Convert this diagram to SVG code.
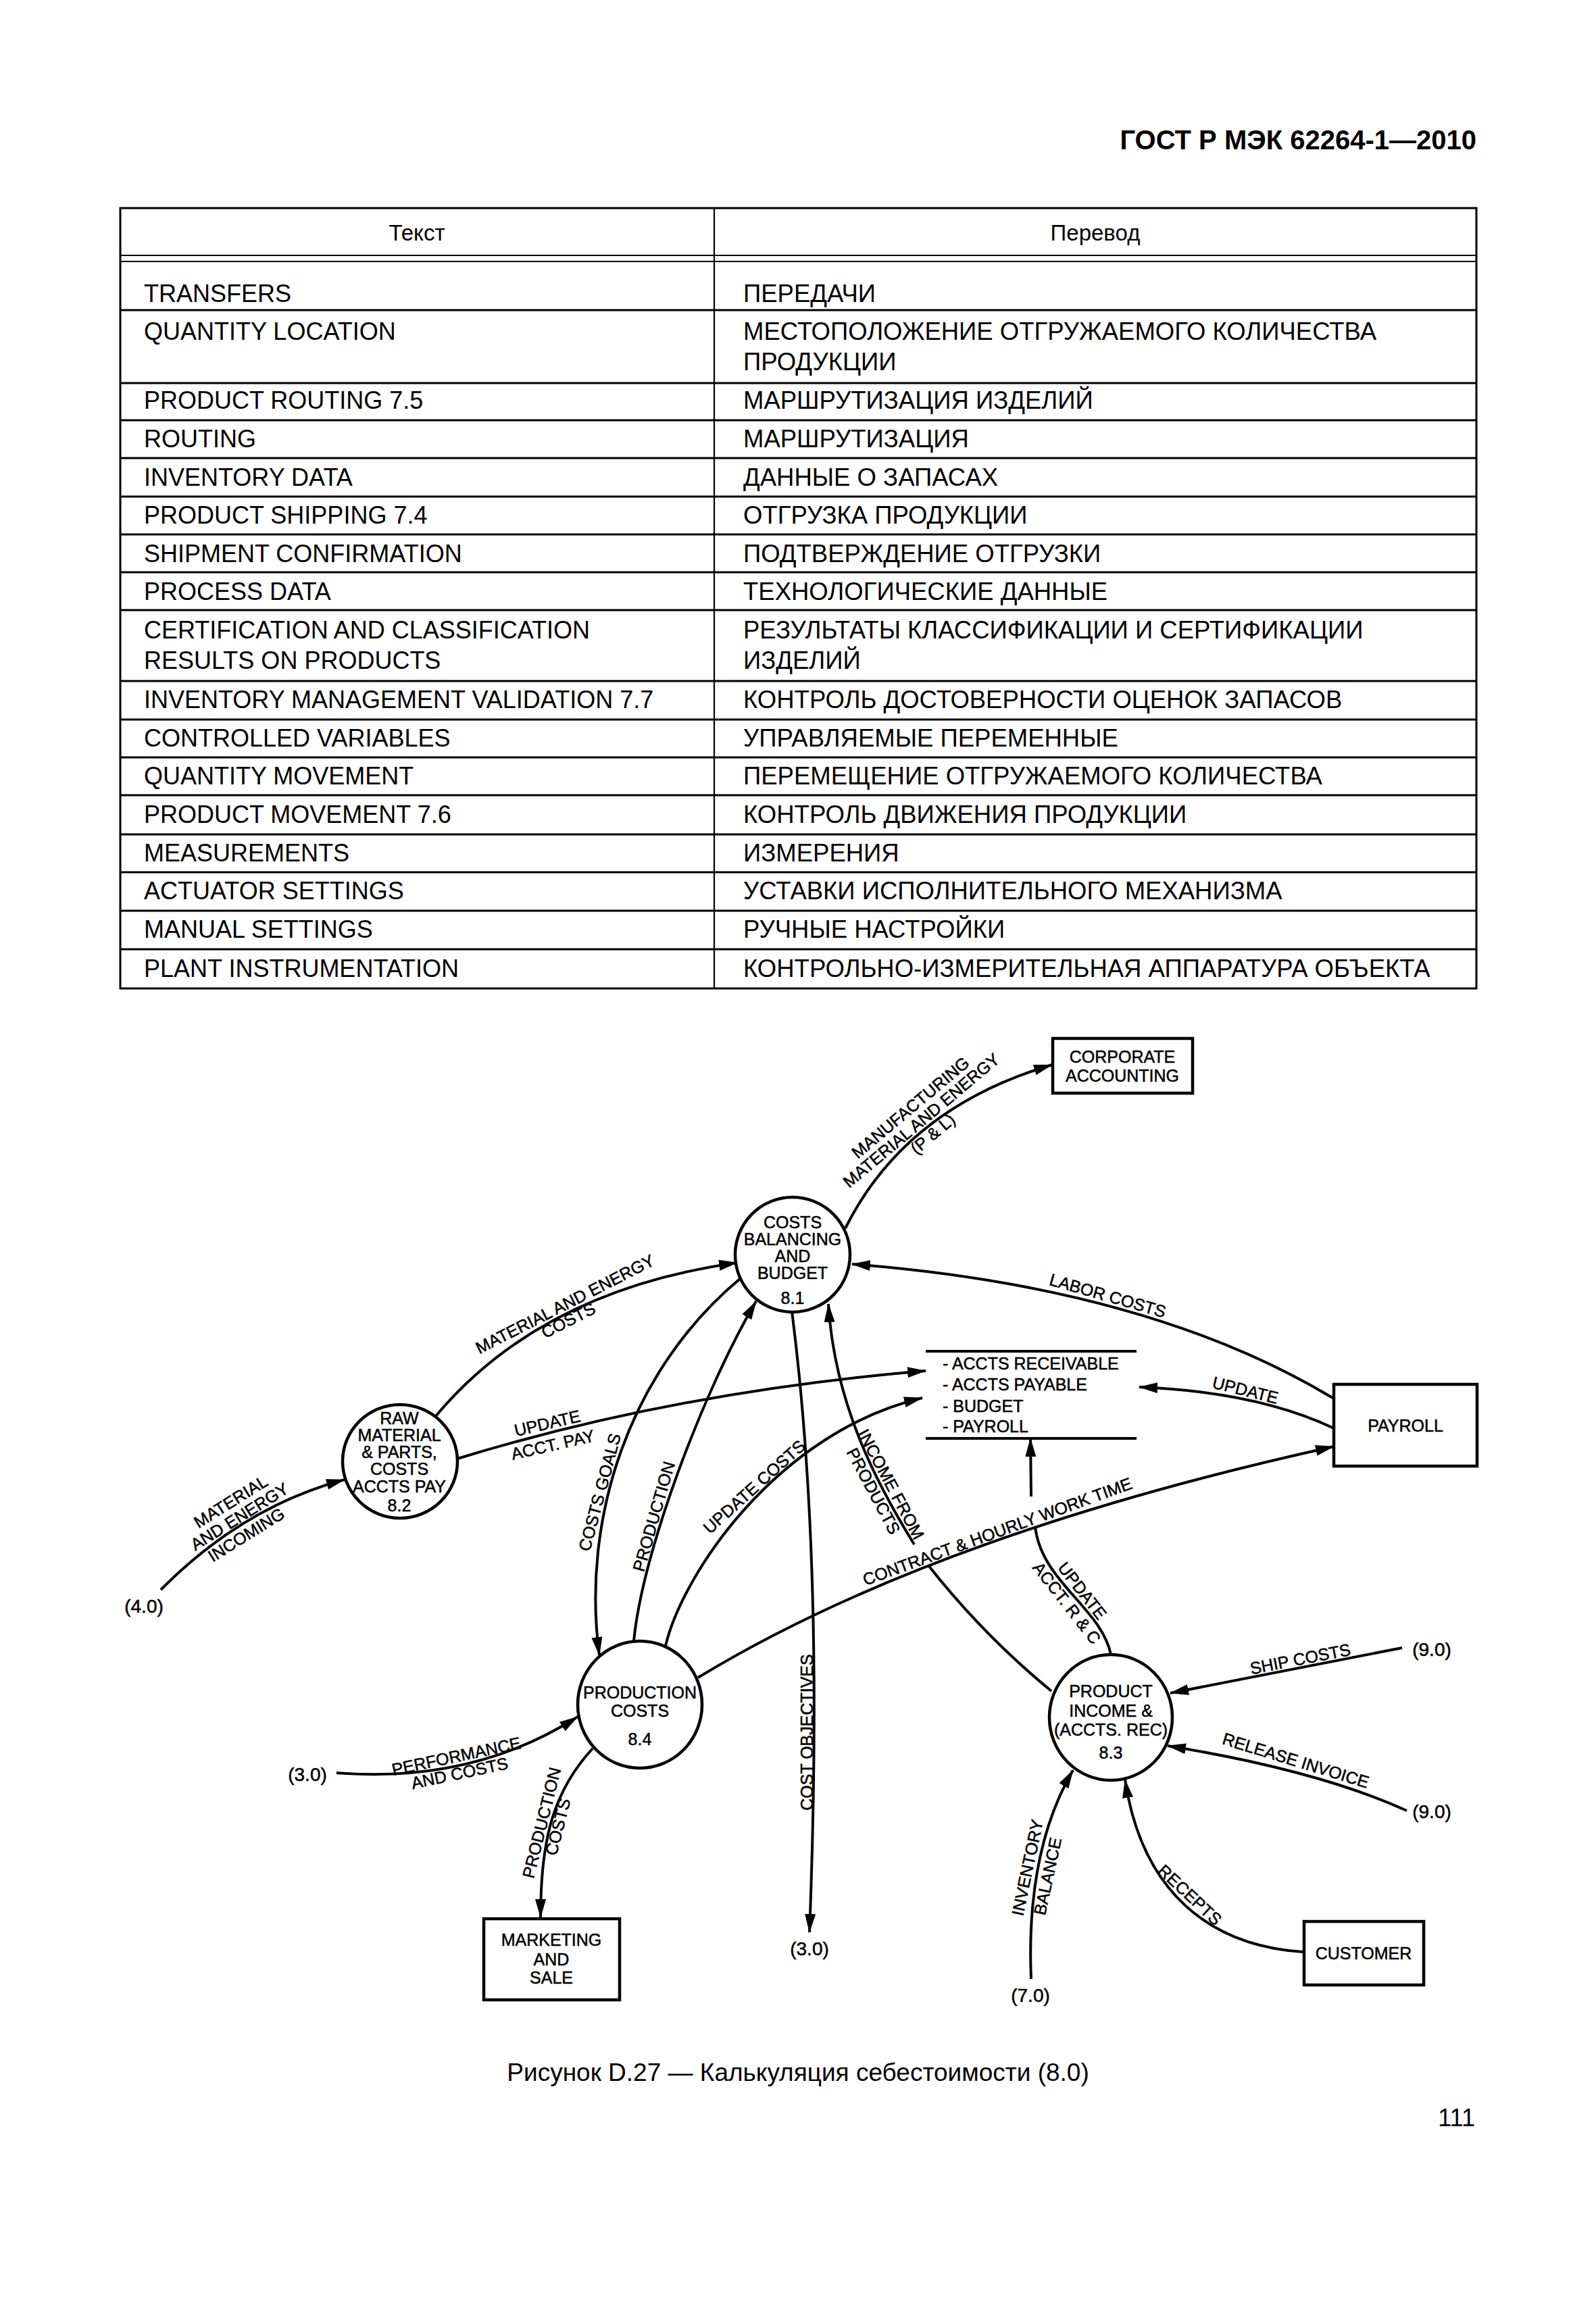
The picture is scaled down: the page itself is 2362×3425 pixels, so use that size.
<svg xmlns="http://www.w3.org/2000/svg" width="2362" height="3425" viewBox="0 0 2362 3425">
<style>
text{font-family:"Liberation Sans",Arial,Helvetica,sans-serif;fill:#000}
.hd{font-size:33px;text-anchor:middle}
.tb{font-size:36px}
.tr{font-size:36.5px}
.n{font-size:25px;text-anchor:middle;stroke:#000;stroke-width:0.5}
.l{font-size:25px;text-anchor:middle;stroke:#000;stroke-width:0.5}
.x{font-size:28px;text-anchor:middle;stroke:#000;stroke-width:0.5}
.st{font-size:25px;stroke:#000;stroke-width:0.5}
.tl{stroke:#000;stroke-width:3;fill:none}
.tl2{stroke:#000;stroke-width:2.2;fill:none}
.nd{fill:#fff;stroke:#000;stroke-width:4.5}
.c{fill:none;stroke:#000;stroke-width:4}
</style>
<defs>
<marker id="ah" viewBox="0 0 28 16" refX="27" refY="8" markerWidth="28" markerHeight="16" markerUnits="userSpaceOnUse" orient="auto">
<path d="M0,0 L28,8 L0,16 z" fill="#000"/>
</marker>
</defs>
<rect x="0" y="0" width="2362" height="3425" fill="#fff"/>

<text x="2185" y="221" style="font-size:40px;font-weight:bold;text-anchor:end">ГОСТ Р МЭК 62264-1—2010</text>

<g id="table">
<rect x="178" y="308" width="2007" height="1155" class="tl"/>
<line x1="1057" y1="308" x2="1057" y2="1463" class="tl2"/>
<line x1="178" y1="378" x2="2185" y2="378" class="tl2"/>
<line x1="178" y1="387" x2="2185" y2="387" class="tl2"/>
<g class="tl">
<line x1="178" y1="459" x2="2185" y2="459"/>
<line x1="178" y1="567" x2="2185" y2="567"/>
<line x1="178" y1="622" x2="2185" y2="622"/>
<line x1="178" y1="678" x2="2185" y2="678"/>
<line x1="178" y1="735" x2="2185" y2="735"/>
<line x1="178" y1="791" x2="2185" y2="791"/>
<line x1="178" y1="847" x2="2185" y2="847"/>
<line x1="178" y1="903" x2="2185" y2="903"/>
<line x1="178" y1="1008" x2="2185" y2="1008"/>
<line x1="178" y1="1065" x2="2185" y2="1065"/>
<line x1="178" y1="1121" x2="2185" y2="1121"/>
<line x1="178" y1="1177" x2="2185" y2="1177"/>
<line x1="178" y1="1235" x2="2185" y2="1235"/>
<line x1="178" y1="1291" x2="2185" y2="1291"/>
<line x1="178" y1="1348" x2="2185" y2="1348"/>
<line x1="178" y1="1405" x2="2185" y2="1405"/>
</g>
<text class="hd" x="617" y="356">Текст</text>
<text class="hd" x="1621" y="356">Перевод</text>
<text class="tb" x="213" y="447">TRANSFERS</text>
<text class="tr" x="1100" y="447">ПЕРЕДАЧИ</text>
<text class="tb" x="213" y="503">QUANTITY LOCATION</text>
<text class="tr" x="1100" y="503">МЕСТОПОЛОЖЕНИЕ ОТГРУЖАЕМОГО КОЛИЧЕСТВА</text>
<text class="tr" x="1100" y="548">ПРОДУКЦИИ</text>
<text class="tb" x="213" y="605">PRODUCT ROUTING 7.5</text>
<text class="tr" x="1100" y="605">МАРШРУТИЗАЦИЯ ИЗДЕЛИЙ</text>
<text class="tb" x="213" y="662">ROUTING</text>
<text class="tr" x="1100" y="662">МАРШРУТИЗАЦИЯ</text>
<text class="tb" x="213" y="719">INVENTORY DATA</text>
<text class="tr" x="1100" y="719">ДАННЫЕ О ЗАПАСАХ</text>
<text class="tb" x="213" y="775">PRODUCT SHIPPING 7.4</text>
<text class="tr" x="1100" y="775">ОТГРУЗКА ПРОДУКЦИИ</text>
<text class="tb" x="213" y="832">SHIPMENT CONFIRMATION</text>
<text class="tr" x="1100" y="832">ПОДТВЕРЖДЕНИЕ ОТГРУЗКИ</text>
<text class="tb" x="213" y="888">PROCESS DATA</text>
<text class="tr" x="1100" y="888">ТЕХНОЛОГИЧЕСКИЕ ДАННЫЕ</text>
<text class="tb" x="213" y="945">CERTIFICATION AND CLASSIFICATION</text>
<text class="tb" x="213" y="990">RESULTS ON PRODUCTS</text>
<text class="tr" x="1100" y="945">РЕЗУЛЬТАТЫ КЛАССИФИКАЦИИ И СЕРТИФИКАЦИИ</text>
<text class="tr" x="1100" y="990">ИЗДЕЛИЙ</text>
<text class="tb" x="213" y="1048">INVENTORY MANAGEMENT VALIDATION 7.7</text>
<text class="tr" x="1100" y="1048">КОНТРОЛЬ ДОСТОВЕРНОСТИ ОЦЕНОК ЗАПАСОВ</text>
<text class="tb" x="213" y="1105">CONTROLLED VARIABLES</text>
<text class="tr" x="1100" y="1105">УПРАВЛЯЕМЫЕ ПЕРЕМЕННЫЕ</text>
<text class="tb" x="213" y="1161">QUANTITY MOVEMENT</text>
<text class="tr" x="1100" y="1161">ПЕРЕМЕЩЕНИЕ ОТГРУЖАЕМОГО КОЛИЧЕСТВА</text>
<text class="tb" x="213" y="1218">PRODUCT MOVEMENT 7.6</text>
<text class="tr" x="1100" y="1218">КОНТРОЛЬ ДВИЖЕНИЯ ПРОДУКЦИИ</text>
<text class="tb" x="213" y="1275">MEASUREMENTS</text>
<text class="tr" x="1100" y="1275">ИЗМЕРЕНИЯ</text>
<text class="tb" x="213" y="1331">ACTUATOR SETTINGS</text>
<text class="tr" x="1100" y="1331">УСТАВКИ ИСПОЛНИТЕЛЬНОГО МЕХАНИЗМА</text>
<text class="tb" x="213" y="1388">MANUAL SETTINGS</text>
<text class="tr" x="1100" y="1388">РУЧНЫЕ НАСТРОЙКИ</text>
<text class="tb" x="213" y="1446">PLANT INSTRUMENTATION</text>
<text class="tr" x="1100" y="1446">КОНТРОЛЬНО-ИЗМЕРИТЕЛЬНАЯ АППАРАТУРА ОБЪЕКТА</text>
</g>

<g id="connectors">
<path class="c" d="M1251,1818 Q1340,1640 1557,1576" marker-end="url(#ah)"/>
<path class="c" d="M1974,2070 Q1700,1905 1261,1871" marker-end="url(#ah)"/>
<path class="c" d="M1974,2114 Q1860,2060 1686,2053" marker-end="url(#ah)"/>
<path class="c" d="M1033,2483 Q1380,2272 1974,2141" marker-end="url(#ah)"/>
<path class="c" d="M1644,2449 C1630,2380 1540,2340 1532,2259"/>
<path class="c" d="M1526,2215 L1525,2129" marker-end="url(#ah)"/>
<path class="c" d="M1556,2503 Q1455,2420 1374,2317"/>
<path class="c" d="M1353,2286 C1300,2200 1235,2080 1226,1930" marker-end="url(#ah)"/>
<path class="c" d="M1172,1941 C1205,2200 1212,2500 1198,2860" marker-end="url(#ah)"/>
<path class="c" d="M2075,2439 L1732,2506" marker-end="url(#ah)"/>
<path class="c" d="M2082,2680 Q1950,2620 1728,2584" marker-end="url(#ah)"/>
<path class="c" d="M1526,2929 Q1518,2740 1588,2620" marker-end="url(#ah)"/>
<path class="c" d="M1928,2889 C1790,2880 1690,2800 1665,2634" marker-end="url(#ah)"/>
<path class="c" d="M644,2097 Q800,1910 1091,1869" marker-end="url(#ah)"/>
<path class="c" d="M677,2159 Q1000,2060 1370,2029" marker-end="url(#ah)"/>
<path class="c" d="M238,2353 Q360,2230 510,2190" marker-end="url(#ah)"/>
<path class="c" d="M1096,1892 C930,2030 860,2250 887,2450" marker-end="url(#ah)"/>
<path class="c" d="M938,2429 C950,2300 1040,2060 1119,1926" marker-end="url(#ah)"/>
<path class="c" d="M985,2436 C1010,2330 1150,2120 1365,2069" marker-end="url(#ah)"/>
<path class="c" d="M498,2624 Q700,2640 855,2541" marker-end="url(#ah)"/>
<path class="c" d="M877,2588 C820,2650 800,2720 800,2838" marker-end="url(#ah)"/>

<g id="connector-labels">
<text class="l" transform="translate(1353,1646) rotate(-40)">MANUFACTURING</text>
<text class="l" transform="translate(1369,1665) rotate(-40)">MATERIAL AND ENERGY</text>
<text class="l" transform="translate(1386,1685) rotate(-40)">(P &amp; L)</text>
<text class="l" transform="translate(1637,1926) rotate(16)">LABOR COSTS</text>
<text class="l" transform="translate(1841,2066) rotate(14)">UPDATE</text>
<text class="l" transform="translate(1479,2275) rotate(-20)">CONTRACT &amp; HOURLY WORK TIME</text>
<text class="l" transform="translate(1595,2360) rotate(52)">UPDATE</text>
<text class="l" transform="translate(1572,2378) rotate(52)">ACCT. R &amp; C</text>
<text class="l" transform="translate(1311,2201) rotate(62)">INCOME FROM</text>
<text class="l" transform="translate(1285,2211) rotate(62)">PRODUCTS</text>
<text class="l" transform="translate(1203,2564) rotate(-90)">COST OBJECTIVES</text>
<text class="l" transform="translate(1926,2464) rotate(-11)">SHIP COSTS</text>
<text class="l" transform="translate(1915,2614) rotate(17)">RELEASE INVOICE</text>
<text class="l" transform="translate(1529,2766) rotate(-78)">INVENTORY</text>
<text class="l" transform="translate(1559,2779) rotate(-78)">BALANCE</text>
<text class="l" transform="translate(1755,2811) rotate(43)">RECEPTS</text>
<text class="l" transform="translate(677,2608) rotate(-12)">PERFORMANCE</text>
<text class="l" transform="translate(682,2633) rotate(-12)">AND COSTS</text>
<text class="l" transform="translate(810,2700) rotate(-76)">PRODUCTION</text>
<text class="l" transform="translate(834,2706) rotate(-76)">COSTS</text>
<text class="l" transform="translate(896,2211) rotate(-75)">COSTS GOALS</text>
<text class="l" transform="translate(976,2247) rotate(-74)">PRODUCTION</text>
<text class="l" transform="translate(1122,2207) rotate(-42)">UPDATE COSTS</text>
<text class="l" transform="translate(840,1938) rotate(-27)">MATERIAL AND ENERGY</text>
<text class="l" transform="translate(845,1962) rotate(-27)">COSTS</text>
<text class="l" transform="translate(812,2115) rotate(-13)">UPDATE</text>
<text class="l" transform="translate(820,2147) rotate(-13)">ACCT. PAY</text>
<text class="l" transform="translate(346,2230) rotate(-32)">MATERIAL</text>
<text class="l" transform="translate(359,2252) rotate(-32)">AND ENERGY</text>
<text class="l" transform="translate(369,2279) rotate(-32)">INCOMING</text>
</g>
</g>

<g id="node-8-1">
<ellipse class="nd" cx="1173" cy="1857" rx="85" ry="85"/>
<text class="n" x="1173" y="1818">COSTS</text>
<text class="n" x="1173" y="1843">BALANCING</text>
<text class="n" x="1173" y="1868">AND</text>
<text class="n" x="1173" y="1893">BUDGET</text>
<text class="n" x="1173" y="1930">8.1</text>
</g>
<g id="node-8-2">
<ellipse class="nd" cx="592" cy="2163" rx="85" ry="84"/>
<text class="n" x="591" y="2108">RAW</text>
<text class="n" x="591" y="2133">MATERIAL</text>
<text class="n" x="591" y="2158">&amp; PARTS,</text>
<text class="n" x="591" y="2183">COSTS</text>
<text class="n" x="591" y="2209">ACCTS PAY</text>
<text class="n" x="591" y="2237">8.2</text>
</g>
<g id="node-8-3">
<ellipse class="nd" cx="1644" cy="2542" rx="91" ry="93"/>
<text class="n" x="1644" y="2512">PRODUCT</text>
<text class="n" x="1644" y="2541">INCOME &amp;</text>
<text class="n" x="1644" y="2569">(ACCTS. REC)</text>
<text class="n" x="1644" y="2603">8.3</text>
</g>
<g id="node-8-4">
<ellipse class="nd" cx="947" cy="2523" rx="92" ry="94"/>
<text class="n" x="947" y="2514">PRODUCTION</text>
<text class="n" x="947" y="2541">COSTS</text>
<text class="n" x="947" y="2583">8.4</text>
</g>
<g id="store-accounts">
<line x1="1370" y1="2000" x2="1682" y2="2000" class="c"/>
<line x1="1370" y1="2129" x2="1682" y2="2129" class="c"/>
<text class="st" x="1395" y="2027">- ACCTS RECEIVABLE</text>
<text class="st" x="1395" y="2058">- ACCTS PAYABLE</text>
<text class="st" x="1395" y="2090">- BUDGET</text>
<text class="st" x="1395" y="2120">- PAYROLL</text>
</g>
<g id="node-corporate-accounting">
<rect class="nd" x="1558" y="1537" width="207" height="81"/>
<text class="n" x="1661" y="1573">CORPORATE</text>
<text class="n" x="1661" y="1601">ACCOUNTING</text>
</g>
<g id="node-payroll">
<rect class="nd" x="1974" y="2049" width="212" height="121"/>
<text class="n" x="2080" y="2119">PAYROLL</text>
</g>
<g id="node-marketing">
<rect class="nd" x="716" y="2840" width="201" height="120"/>
<text class="n" x="816" y="2880">MARKETING</text>
<text class="n" x="816" y="2909">AND</text>
<text class="n" x="816" y="2936">SALE</text>
</g>
<g id="node-customer">
<rect class="nd" x="1930" y="2844" width="177" height="94"/>
<text class="n" x="2018" y="2900">CUSTOMER</text>
</g>
<g id="external-refs">
<text class="x" x="213" y="2387">(4.0)</text>
<text class="x" x="455" y="2636">(3.0)</text>
<text class="x" x="1198" y="2894">(3.0)</text>
<text class="x" x="1525" y="2963">(7.0)</text>
<text class="x" x="2119" y="2451">(9.0)</text>
<text class="x" x="2119" y="2691">(9.0)</text>
</g>

<text x="1181" y="3080" style="font-size:37px;text-anchor:middle">Рисунок D.27 — Калькуляция себестоимости (8.0)</text>
<text x="2183" y="3147" style="font-size:36px;text-anchor:end">111</text>
</svg>
